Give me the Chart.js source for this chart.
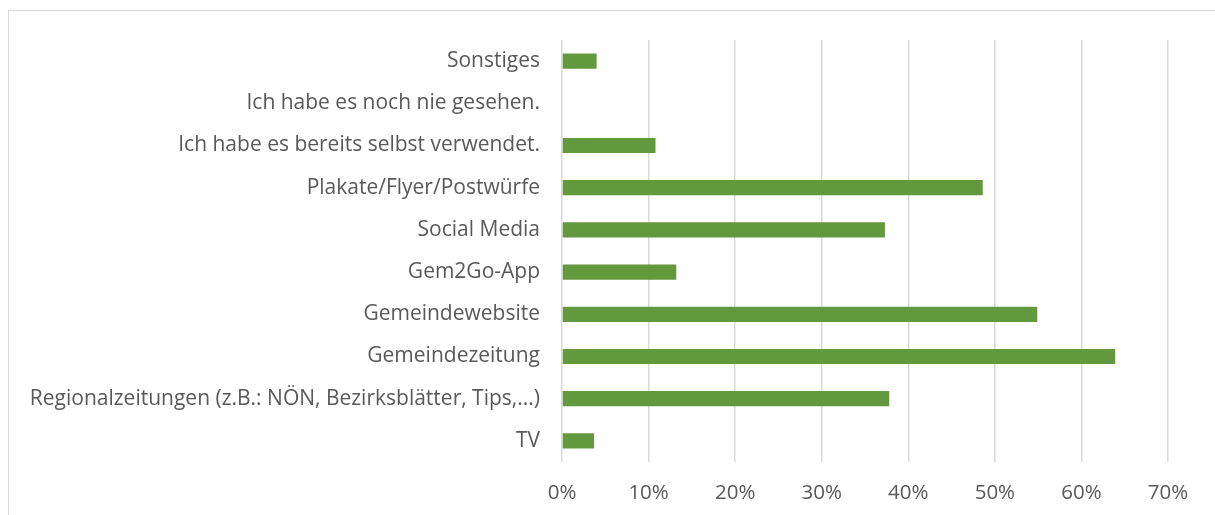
<!DOCTYPE html>
<html>
<head>
<meta charset="utf-8">
<script src="https://cdn.jsdelivr.net/npm/chart.js@4"></script>
<style>
  html, body { margin: 0; padding: 0; background: #fff; overflow: hidden; }
  #frame { position: absolute; left: 8px; top: 10px; width: 1230px; height: 530px; border: 1px solid #d9d9d9; }
  #wrap { position: absolute; left: 0; top: 0; width: 1215px; height: 515px; }
</style>
</head>
<body>
<div id="frame"></div>
<div id="wrap"><canvas id="sourceChart"></canvas></div>
<script>
// categories top to bottom, as in the picture
const categories = [
    'Sonstiges',
    'Ich habe es noch nie gesehen.',
    'Ich habe es bereits selbst verwendet.',
    'Plakate/Flyer/Postwürfe',
    'Social Media',
    'Gem2Go-App',
    'Gemeindewebsite',
    'Gemeindezeitung',
    'Regionalzeitungen (z.B.: NÖN, Bezirksblätter, Tips,...)',
    'TV'
];

// share in percent
const shares = [4.0, 0, 10.8, 48.6, 37.3, 13.2, 54.9, 63.9, 37.8, 3.7];

const xTicks = [0, 10, 20, 30, 40, 50, 60, 70];

var green = 'rgb(98, 152, 62)';
var gridGrey = '#d9d9d9';
var textGrey = '#595959';

var sourceChart = new Chart('sourceChart', {
    type: 'bar',
    data: {
        labels: categories,
        datasets: [{
            data: shares,
            backgroundColor: green,
            borderWidth: 0,
            categoryPercentage: 1,
            barPercentage: 0.36
        }]
    },
    options: {
        indexAxis: 'y',
        responsive: true,
        maintainAspectRatio: false,
        animation: false,
        layout: { padding: { top: 40, right: 47, left: 0, bottom: 0 } },
        plugins: {
            legend: { display: false },
            tooltip: { enabled: false }
        },
        scales: {
            x: {
                min: 0,
                max: 70,
                afterBuildTicks: (scale) => { scale.ticks = xTicks.map(v => ({ value: v })); },
                grid: { color: gridGrey, lineWidth: 1.5, drawTicks: false },
                border: { display: false },
                ticks: {
                    color: textGrey,
                    font: { family: 'Open Sans', size: 20.5 },
                    padding: 19,
                    callback: (v) => v + '%'
                },
                afterFit: (scale) => { scale.height = 53; }
            },
            y: {
                grid: { display: false },
                border: { display: false },
                ticks: {
                    color: textGrey,
                    font: { family: 'Open Sans', size: 21 },
                    padding: 14
                },
                afterFit: (scale) => { scale.width = 562; }
            }
        }
    }
});
</script>
</body>
</html>
